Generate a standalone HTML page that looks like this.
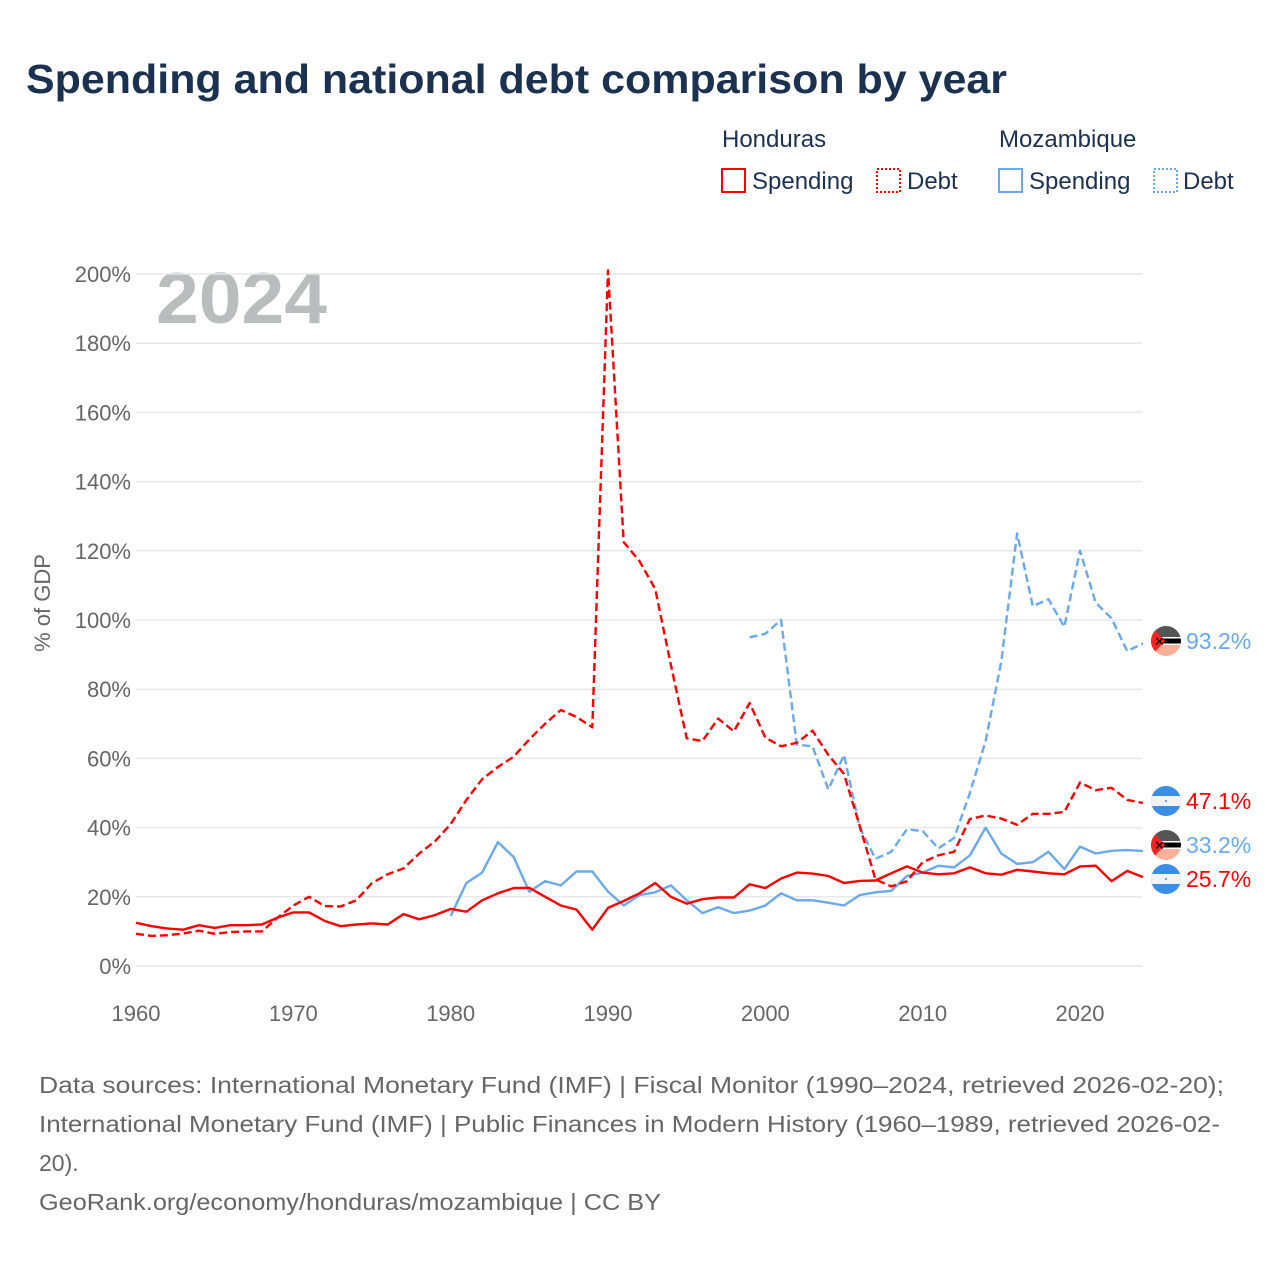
<!DOCTYPE html>
<html><head><meta charset="utf-8">
<style>
body{margin:0;background:#fff;font-family:"Liberation Sans",sans-serif;}
#wrap{position:relative;width:1280px;height:1280px;overflow:hidden;}
</style></head>
<body><div id="wrap">
<svg id="chart" width="1280" height="1280" xmlns="http://www.w3.org/2000/svg">
<text x="26" y="93" font-size="41" font-weight="bold" fill="#1b3150" textLength="981" lengthAdjust="spacingAndGlyphs">Spending and national debt comparison by year</text>
<g font-size="24" fill="#1b3150">
<text x="722" y="147">Honduras</text>
<text x="999" y="147">Mozambique</text>
<g><rect x="722" y="169" width="23" height="23" fill="none" stroke="#f00" stroke-width="2"/><text x="752" y="189">Spending</text></g>
<g><rect x="877" y="169" width="23" height="23" fill="none" stroke="#f00" stroke-width="2" stroke-dasharray="2,2"/><text x="907" y="189">Debt</text></g>
<g><rect x="999" y="169" width="23" height="23" fill="none" stroke="#6aa9ea" stroke-width="2"/><text x="1029" y="189">Spending</text></g>
<g><rect x="1154" y="169" width="23" height="23" fill="none" stroke="#6aa9ea" stroke-width="2" stroke-dasharray="2,2"/><text x="1183" y="189">Debt</text></g>
</g>
<text x="156" y="323" font-size="72" font-weight="bold" fill="#bbbcbe" textLength="171" lengthAdjust="spacingAndGlyphs">2024</text>
<text transform="translate(50,603) rotate(-90)" text-anchor="middle" font-size="22" fill="#666">% of GDP</text>
<g id="grid"></g><g id="series"></g><g id="ends"></g>
<g font-size="23" fill="#666">
<text x="39" y="1093" textLength="1185" lengthAdjust="spacingAndGlyphs">Data sources: International Monetary Fund (IMF) | Fiscal Monitor (1990–2024, retrieved 2026-02-20);</text>
<text x="39" y="1132" textLength="1181" lengthAdjust="spacingAndGlyphs">International Monetary Fund (IMF) | Public Finances in Modern History (1960–1989, retrieved 2026-02-</text>
<text x="39" y="1171">20).</text>
<text x="39" y="1210" textLength="622" lengthAdjust="spacingAndGlyphs">GeoRank.org/economy/honduras/mozambique | CC BY</text>
</g>
</svg>
</div>
<script>
const yTicks=[0,20,40,60,80,100,120,140,160,180,200];
const xTicks=[1960,1970,1980,1990,2000,2010,2020];
const hnSpendStart=1960;
const hnSpending=[12.5,11.5,10.8,10.5,11.8,11,11.8,11.8,12,14,15.5,15.5,13,11.5,12,12.3,12,15,13.5,14.7,16.5,15.7,19,21,22.5,22.6,20,17.5,16.3,10.5,16.8,18.8,21,24,20,18,19.3,19.8,19.8,23.6,22.5,25.3,27,26.7,26,24,24.6,24.7,26.8,28.8,27,26.5,26.8,28.5,26.8,26.4,27.8,27.3,26.8,26.5,28.8,29,24.5,27.5,25.7];
const hnDebtStart=1960;
const hnDebt=[9.3,8.7,8.9,9.4,10.2,9.3,9.8,10,10,14,17.5,20,17.3,17.2,19,24,26.5,28.2,32.5,36,41,48,54,57.5,60.5,65.5,70,74,72,69,201,122.5,117,109,87,65.8,65,71.5,67.8,76,66,63.5,64.5,68,61,55.5,40.5,25,23,24.5,30,32,33,42.5,43.5,42.6,40.8,44,44,44.5,53,50.8,51.5,48,47.1];
const mzSpendStart=1980;
const mzSpending=[14.5,24,27,35.8,31.5,21.5,24.5,23.3,27.3,27.3,21.5,17.5,20.5,21.3,23.3,19,15.3,17,15.3,16,17.5,21,19,19,18.3,17.5,20.5,21.3,21.7,26,27,29,28.5,32,40,32.5,29.5,30,33,28,34.5,32.5,33.3,33.5,33.2];
const mzDebtStart=1999;
const mzDebt=[95,96,100,64,63.5,51,61,40,31,33,39.5,39,34,37,50,65,88,125,104,106,98,120,105,100.5,91,93.2];
const endLabels=["93.2%","47.1%","33.2%","25.7%"];

const NS="http://www.w3.org/2000/svg";
const X=y=>136+(y-1960)*(1080-136)/60;
const Y=v=>966-v*(966-274)/200;
function mk(t,a,p){const e=document.createElementNS(NS,t);for(const k in a)e.setAttribute(k,a[k]);p.appendChild(e);return e;}
const grid=document.getElementById('grid');
yTicks.forEach(t=>{
  const l=mk('line',{x1:136,x2:1142,y1:Y(t),y2:Y(t),stroke:'#e8e8e8','stroke-width':1.5},grid);
  
  
  const tx=mk('text',{x:131,y:Y(t)+8,'text-anchor':'end','font-size':22,fill:'#666'},grid);
  tx.textContent=t+'%';
  
  
});
xTicks.forEach(t=>{
  const tx=mk('text',{x:X(t),y:1021,'text-anchor':'middle','font-size':22,fill:'#666'},grid);
  tx.textContent=t;
  
  
});
const ser=document.getElementById('series');
function line(vals,start,color,dash,name){
  const d=vals.map((v,i)=>(i?'L':'M')+X(start+i).toFixed(1)+','+Y(v).toFixed(1)).join('');
  const p=mk('path',{d:d,fill:'none',stroke:color,'stroke-width':2.4,'stroke-linejoin':'round'},ser);
  if(dash)p.setAttribute('stroke-dasharray','8,4');
  
  
}
line(mzDebt,mzDebtStart,'#6aa9ea',true,'line-mozambique-debt');
line(mzSpending,mzSpendStart,'#6aa9ea',false,'line-mozambique-spending');
line(hnDebt,hnDebtStart,'#f00',true,'line-honduras-debt');
line(hnSpending,hnSpendStart,'#f00',false,'line-honduras-spending');

const ends=document.getElementById('ends');
function flag(cy,type,name){
  const g=mk('g',{},ends);
  
  
  const cx=1166,r=15;
  const id='c'+Math.round(cy);
  const cp=mk('clipPath',{id:id},g);mk('circle',{cx:cx,cy:cy,r:r},cp);
  const f=mk('g',{'clip-path':'url(#'+id+')'},g);
  if(type==='mz'){
    mk('rect',{x:cx-r,y:cy-r,width:2*r,height:11,fill:'#555'},f);
    mk('rect',{x:cx-r,y:cy-4,width:2*r,height:8,fill:'#fff'},f);
    mk('rect',{x:cx-r,y:cy-2.5,width:2*r,height:5,fill:'#000'},f);
    mk('rect',{x:cx-r,y:cy+4,width:2*r,height:11,fill:'#ffb09a'},f);
    mk('polygon',{points:(cx-r)+','+(cy-r)+' '+(cx-1)+','+cy+' '+(cx-r)+','+(cy+r),fill:'#f22'},f);
    const t=mk('text',{x:cx-12,y:cy+5,'font-size':13,fill:'#000'},f);t.textContent='✕';
  }else{
    mk('rect',{x:cx-r,y:cy-r,width:2*r,height:2*r,fill:'#3a8ee6'},f);
    mk('rect',{x:cx-r,y:cy-5,width:2*r,height:10,fill:'#f2f2f2'},f);
    mk('circle',{cx:cx,cy:cy,r:1,fill:'#3a8ee6'},f);
  }
}
const endData=[[mzDebt,'mz','#6aa9ea',641],[hnDebt,'hn','#f00',801],[mzSpending,'mz','#6aa9ea',845],[hnSpending,'hn','#f00',879]];
endData.forEach((e,i)=>{
  flag(e[3],e[1],'end-flag-'+i);
  const t=mk('text',{x:1186,y:e[3]+8,'font-size':23,fill:e[2]},ends);
  t.textContent=endLabels[i];
  
  
});
</script>
</body></html>
